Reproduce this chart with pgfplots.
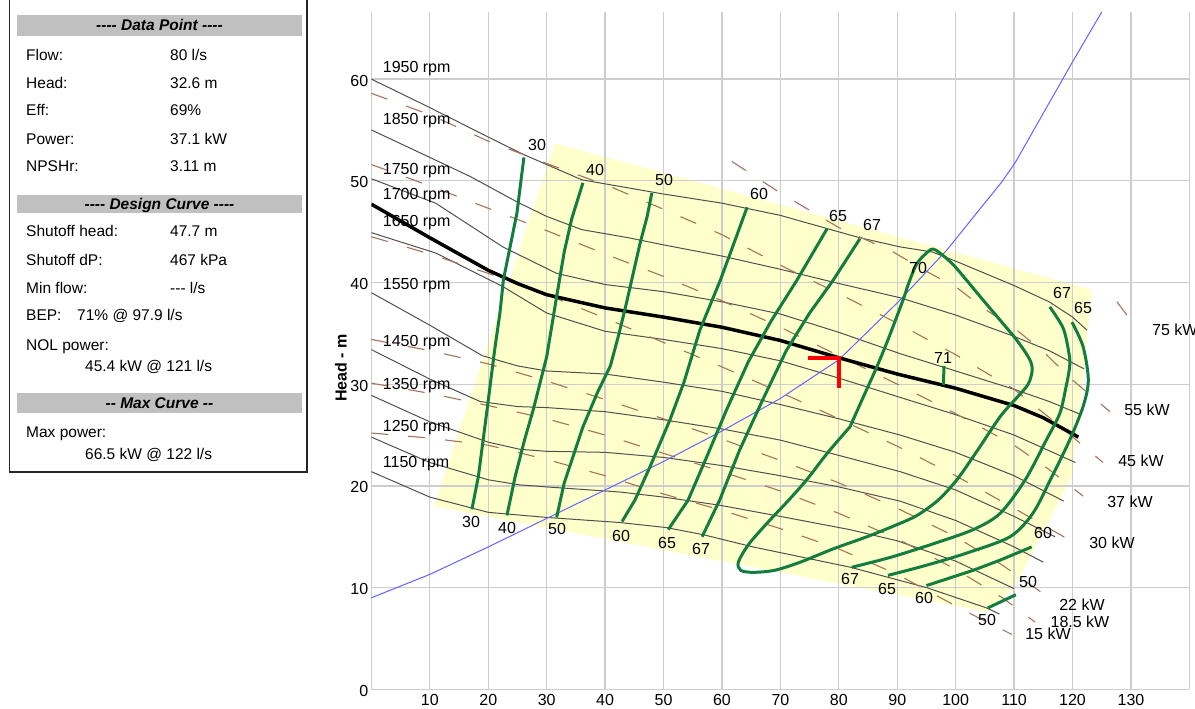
\documentclass[border=0pt]{standalone}
\usepackage{fontspec}
\setmainfont{Liberation Sans}
\usepackage{pgfplots}
\pgfplotsset{compat=1.18}
\definecolor{grn}{RGB}{18,125,62}
\definecolor{yel}{RGB}{255,255,204}
\definecolor{pwr}{RGB}{165,115,90}
\definecolor{spd}{RGB}{80,80,80}
\definecolor{gridc}{RGB}{205,205,205}
\definecolor{sys}{RGB}{100,100,255}
\definecolor{barc}{RGB}{192,192,192}
\newcommand\fs{\fontsize{16}{19}\selectfont}
\newcommand\pf{\fontsize{15.5}{18}\selectfont}
\begin{document}
\begin{tikzpicture}[x=1pt,y=1pt]
\begin{axis}[at={(371.4pt,19.7pt)}, anchor=south west, scale only axis,
  width=818pt, height=677.3pt, xmin=0, xmax=140, ymin=0, ymax=66.6,
  set layers, axis line style={draw=none}, major tick length=0pt,
  grid=major, grid style={gridc, line width=1.3pt},
  xtick={0,10,...,140}, xticklabels={,10,20,30,40,50,60,70,80,90,100,110,120,130,},
  ytick={0,10,...,60}, yticklabels={0,10,20,30,40,50,60},
  /pgf/number format/assume math mode=true,
  xticklabel style={font=\fs, anchor=north, inner sep=0pt, yshift=-5pt},
  yticklabel style={font=\fs, anchor=east, inner sep=0pt, xshift=-3pt, yshift=-1.5pt},
  clip=true]
% operating region
\addplot[on layer=axis background, fill=yel, draw=none] coordinates {(10.7,18.0)(31.4,53.7)(123.3,39.3)(120,21)(110,10)(105.5,7.6)(10.7,18.0)};
% speed curves
\addplot[spd, line width=1pt] coordinates {(0,60)(10,57.2)(20,54.3)(26,52.6)(30,51.6)(36,50.1)(44,49.3)(50,48.7)(60,47.8)(70,46.6)(78,45.3)(83.6,44.4)(90.5,43.5)(96,43.0)(100,42.1)(105,40.9)(110,39.7)(116,38.1)(120,36.6)(122.5,35.3)};
\addplot[spd, line width=1pt] coordinates {(0,55)(10,52.3)(17,50.4)(25,47.9)(30,46.5)(36,45.2)(44,44.4)(50,43.7)(60,42.6)(70,41.3)(80,39.9)(90.5,38.5)(100,36.8)(110,34.7)(116,33.3)(122,31.5)};
\addplot[spd, line width=1pt] coordinates {(0,50.2)(11,47.8)(22.5,43.5)(31.7,40.9)(40,39.8)(50,39.1)(60,38.1)(70,36.9)(80,35.1)(90.5,33.0)(100,31.3)(110,29.5)(116,28.3)(121.5,27.0)};
\addplot[spd, line width=1pt] coordinates {(0,44.9)(11,42.9)(22.5,39.6)(30,37.0)(40,35.2)(50,34.4)(60,33.5)(70,32.3)(80,30.6)(90.5,28.7)(100,27.0)(110,25.0)(120.5,22.3)};
\addplot[spd, line width=1pt] coordinates {(0,39.0)(10,35.8)(19,32.8)(25,31.8)(30,31.3)(40,31.0)(50,30.2)(60,29.3)(70,28.0)(80,26.6)(90.5,25.0)(100,23.3)(110,21.0)(118.5,18.5)};
\addplot[spd, line width=1pt] coordinates {(0,33.4)(10,30.5)(18.6,28.3)(25,27.8)(30,27.7)(40,27.3)(50,26.5)(60,25.6)(70,24.5)(80,23.0)(90.5,21.4)(100,19.6)(110,17.0)(117,15.0)};
\addplot[spd, line width=1pt] coordinates {(0,28.9)(10,26.3)(20,24.3)(25.4,23.6)(30,23.4)(40,23.3)(50,22.8)(60,22.0)(70,21.0)(80,19.9)(90.5,18.5)(100,16.6)(110,14.0)(115,12.5)};
\addplot[spd, line width=1pt] coordinates {(0,24.8)(10,22.3)(20,20.6)(25.4,20.1)(30,19.9)(42.5,19.4)(50,18.9)(59.6,18.1)(70,17.0)(81.9,15.7)(90,14.6)(100,12.6)(110,9.9)};
\addplot[spd, line width=1pt] coordinates {(0,21.4)(10,18.9)(20,17.4)(30,16.9)(42.5,16.4)(50.5,15.9)(56.8,15.2)(65.3,14.0)(82,12.0)(95,10.0)(105.3,8.0)(107.5,7.4)};
% power lines
\tikzset{pw/.style={pwr, line width=1.1pt, dash pattern=on 17pt off 20pt}}
\addplot[pw] coordinates {(0,25.2)(10,24.7)(20,24.0)(30,22.6)(40,21.0)(50,19.2)(60,17.6)(70,15.8)(80,13.8)(90,11.3)(100,8.2)(104,7.0)(109.6,5.4)};
\addplot[pw] coordinates {(0,30.1)(10,29.1)(20,27.9)(30,26.6)(40,25.0)(50,23.2)(60,21.4)(70,19.5)(80,17.3)(90,14.8)(100,11.8)(108,9.0)(113.6,6.6)};
\addplot[pw] coordinates {(0,34.4)(10,33.3)(20,32.0)(30,30.3)(40,28.5)(50,26.6)(60,24.6)(70,22.5)(80,20.3)(90,17.8)(100,15.0)(108,12.2)(114.5,9.6)};
\addplot[pw] coordinates {(0,44.5)(10,42.8)(20,40.9)(30,38.8)(40,36.5)(50,34.1)(60,31.7)(70,29.2)(80,26.6)(90,23.9)(100,21.0)(110,17.8)(120,14.5)};
\addplot[pw] coordinates {(0,51.6)(10,49.5)(20,47.3)(30,45.1)(40,42.8)(50,40.6)(60,38.2)(70,35.6)(80,32.8)(90,30.0)(100,27.1)(110,24.0)(116,21.6)(121.8,19.0)};
\addplot[pw] coordinates {(0,58.6)(10,56.5)(20,53.9)(30,51.7)(41,49.4)(50,47.2)(60,44.7)(70,41.7)(80,38.9)(90,36.0)(100,32.9)(110,29.5)(118,25.8)(125.2,22.3)};
\addplot[pw] coordinates {(61.7,51.9)(70,48.8)(80,45.4)(89.3,43.0)(95.3,41.0)(100.2,39.5)(104.7,37.5)(110.5,35.3)(115,33.2)(120,30.4)(126.4,27.3)};
\addplot[pw] coordinates {(127.6,38.1)(129.3,36.8)};
% system curve
\addplot[sys, line width=1pt] coordinates {(0,9.0)(10,11.3)(20,14.0)(30,16.8)(40,19.6)(50,22.4)(60,25.4)(70,28.6)(80,32.4)(90,38.0)(98.5,43.2)(107.9,49.9)(110.2,51.8)(119.9,61.6)(125,66.6)};
% design curve
\addplot[black, line width=3.5pt] coordinates {(0,47.7)(10,44.4)(20,41.2)(25,39.9)(30,38.8)(40,37.5)(50,36.6)(60,35.6)(70,34.3)(80,32.6)(90,31.0)(100,29.6)(110,27.9)(115,26.7)(121,24.8)};
% efficiency contours
\tikzset{ef/.style={grn, line width=3pt, line join=round}}
\addplot[ef] coordinates {(17.2,17.7)(18.3,20.9)(19.8,27.5)(21.1,33.4)(22,37)(22.6,40.3)(24.9,46.8)(26.1,52.3)};
\addplot[ef] coordinates {(23.2,17.1)(24.6,20.9)(26.2,24.5)(27.7,27.5)(30,32.7)(31.7,38.6)(33,43)(34.3,46.3)(36.2,49.8)};
\addplot[ef] coordinates {(31.7,16.9)(33,20.3)(36.2,25.8)(38.7,29.2)(40.9,31.8)(42.3,34.8)(43.5,37.6)(46,43.9)(47.2,46.5)(48,48.8)};
\addplot[ef] coordinates {(42.9,16.5)(45.1,18.6)(47.7,21.9)(51.1,26.5)(53.5,30.2)(56.2,35.3)(59.7,40.2)(61.5,43)(64.3,47.4)};
\addplot[ef] coordinates {(50.8,15.7)(54.2,18.6)(57.5,23.0)(60.8,27.5)(64.5,32.2)(68.5,36.3)(72.8,40.2)(78,45.3)};
\addplot[ef] coordinates {(56.6,15.0)(59.6,18.6)(63,23.5)(67,28.5)(71,33.3)(75,37)(79,40.2)(83.6,44.3)};
\addplot[ef, smooth] coordinates {(81.9,25.8)(78,23.2)(74.5,20.6)(71.1,18.4)(67.5,16.2)(64.5,14.2)(62.8,12.5)(63.2,11.7)(65.3,11.5)(69,11.7)(73.4,12.5)(79,13.8)(84.8,15.0)(90,16.2)(93.4,17.1)(97,18.6)(100.2,20.6)(103.5,23.3)(107.6,26.8)(110.5,28.7)(112.4,30.0)(113.1,31.4)(112.6,32.5)(110.5,34.3)(107.6,36.3)(104.5,38.4)(101.9,40.2)(99.5,41.8)(97.3,42.9)(96.1,43.3)(95.2,43.0)(93.4,41.9)(92,40)(91,38.3)(88.5,34.5)(86.5,31.7)(84,28.5)(81.9,25.8)};
\addplot[ef] coordinates {(97.9,29.9)(98,31.8)};
\addplot[ef, smooth] coordinates {(116.1,37.6)(118.4,35.5)(119.4,33)(119.5,31.7)(118.8,29.5)(117.8,27.1)(115.5,24.5)(111.9,20.6)(107.6,17.3)(103,15.7)(96.1,14.3)(89,13)(82.2,12.0)};
\addplot[ef, smooth] coordinates {(119.9,36.1)(121.8,33.7)(122.7,30.4)(121.8,27.8)(119.5,24.5)(116.2,20.6)(113.2,17.3)(109.3,15.0)(101.9,13.4)(95,12.2)(88.4,11.2)};
\addplot[ef] coordinates {(113,14.0)(107.6,12.7)(103,11.7)(95,10.2)};
\addplot[ef] coordinates {(105.5,8.0)(110.3,9.3)};
% data point marker
\addplot[red, line width=4pt] coordinates {(74.7,32.6)(80,32.6)(80,29.6)};
\end{axis}
% axis title
\node[rotate=90, font=\fs\bfseries] at (341,341) {Head - m};
% rpm labels
\begin{scope}[every node/.style={anchor=base west, inner sep=0pt, font=\fs}]
\node at (382.7,636) {1950 rpm};
\node at (382.7,584) {1850 rpm};
\node at (382.7,534) {1750 rpm};
\node at (382.7,509) {1700 rpm};
\node at (382.7,482) {1650 rpm};
\node at (382.7,419) {1550 rpm};
\node at (382.7,362) {1450 rpm};
\node at (382.7,319) {1350 rpm};
\node at (382.7,277) {1250 rpm};
\node at (382.7,241) {1150 rpm};
\end{scope}
% efficiency labels
\begin{scope}[every node/.style={inner sep=0pt, font=\fs}]
\node at (537,564) {30};
\node at (595,539) {40};
\node at (664,529) {50};
\node at (759,515) {60};
\node at (838,493) {65};
\node at (872,484) {67};
\node at (918,441) {70};
\node at (943,351) {71};
\node at (1062,416) {67};
\node at (1083,401) {65};
\node at (471,187) {30};
\node at (507,181) {40};
\node at (557,180) {50};
\node at (621,173) {60};
\node at (667,166) {65};
\node at (701,160) {67};
\node at (850,130) {67};
\node at (887,120) {65};
\node at (924,111) {60};
\node at (987,89) {50};
\node at (1043,176) {60};
\node at (1028,127) {50};
% power labels
\node[anchor=west] at (1152,379.5) {75 kW};
\node at (1147,299) {55 kW};
\node at (1141,248) {45 kW};
\node at (1130,207) {37 kW};
\node at (1112,166) {30 kW};
\node at (1082,104) {22 kW};
\node at (1080,87) {18.5 kW};
\node at (1048,75) {15 kW};
\end{scope}
% info panel
\draw[line width=1.3pt, black!85] (9.5,720) -- (9.5,237) -- (307,237) -- (307,720);
\fill[barc] (17,673) rectangle (302,694);
\fill[barc] (17,496) rectangle (302,514);
\fill[barc] (17,296) rectangle (302,316);
\begin{scope}[every node/.style={anchor=base west, inner sep=0pt, font=\pf}]
\node[anchor=base, font=\pf\bfseries\itshape] at (159.5,678) {-{}-{}-{}- Data Point -{}-{}-{}-};
\node at (26,648) {Flow:};   \node at (170,648) {80 l/s};
\node at (26,620.5) {Head:}; \node at (170,620.5) {32.6 m};
\node at (26,593) {Eff:};    \node at (170,593) {69\%};
\node at (26,564.5) {Power:};\node at (170,564.5) {37.1 kW};
\node at (26,537) {NPSHr:};  \node at (170,537) {3.11 m};
\node[anchor=base, font=\pf\bfseries\itshape] at (159.5,499.5) {-{}-{}-{}- Design Curve -{}-{}-{}-};
\node at (26,472) {Shutoff head:}; \node at (170,472) {47.7 m};
\node at (26,443) {Shutoff dP:};   \node at (170,443) {467 kPa};
\node at (26,415) {Min flow:};     \node at (170,415) {-{}-{}- l/s};
\node at (26,388) {BEP:};          \node at (77,388) {71\% @ 97.9 l/s};
\node at (26,358) {NOL power:};
\node at (85,337) {45.4 kW @ 121 l/s};
\node[anchor=base, font=\pf\bfseries\itshape] at (159.5,300.5) {-{}- Max Curve -{}-};
\node at (26,271) {Max power:};
\node at (85,249) {66.5 kW @ 122 l/s};
\end{scope}
\pgfresetboundingbox
\path[use as bounding box] (0,0) rectangle (1195,709);
\end{tikzpicture}
\end{document}
